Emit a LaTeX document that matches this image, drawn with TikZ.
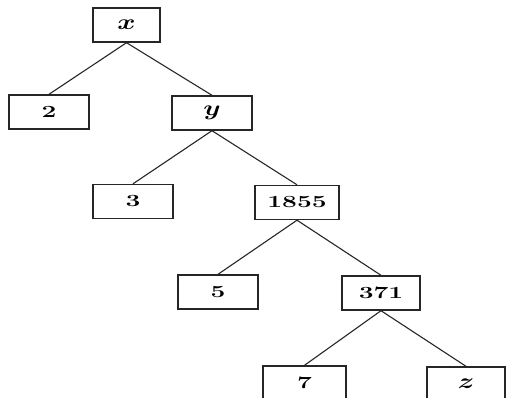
\documentclass[tikz,border=0pt]{standalone}
\usepackage{fontspec}
\usepackage{amsmath}
\usepackage{graphicx}
\newcommand{\wide}[1]{\scalebox{1.55}[1]{#1}}
\newcommand{\letr}[1]{\scalebox{1.6}[1.25]{$\boldsymbol{#1}$}}
\begin{document}
\begin{tikzpicture}[x=1pt,y=-1pt,
  tbox/.style={draw=black!85,line width=1.4pt,minimum width=80pt,minimum height=34pt,inner sep=0pt,
    font=\fontsize{17}{19}\selectfont\bfseries},
  edge/.style={draw=black!85,line width=1.1pt}]
\useasboundingbox (0,0) rectangle (508,398);
\clip (0,0) rectangle (508,398);
\node[tbox,minimum width=67pt] (x) at (126.5,25) {\letr{x}};
\node[tbox] (n2) at (49,112) {\wide{2}};
\node[tbox] (y) at (212,113) {\letr{y}};
\node[tbox] (n3) at (133,201.5) {\wide{3}};
\node[tbox,minimum width=84pt] (n1855) at (297,202.5) {\wide{1855}};
\node[tbox] (n5) at (218,292) {\wide{5}};
\node[tbox,minimum width=78pt] (n371) at (381,293) {\wide{371}};
\node[tbox,minimum width=83pt] (n7) at (304.5,383) {\wide{7}};
\node[tbox,minimum width=78pt] (z) at (466,384) {\letr{z}};
\draw[edge] (x.south) -- (n2.north);
\draw[edge] (x.south) -- (y.north);
\draw[edge] (y.south) -- (n3.north);
\draw[edge] (y.south) -- (n1855.north);
\draw[edge] (n1855.south) -- (n5.north);
\draw[edge] (n1855.south) -- (n371.north);
\draw[edge] (n371.south) -- (n7.north);
\draw[edge] (n371.south) -- (z.north);
\end{tikzpicture}
\end{document}
